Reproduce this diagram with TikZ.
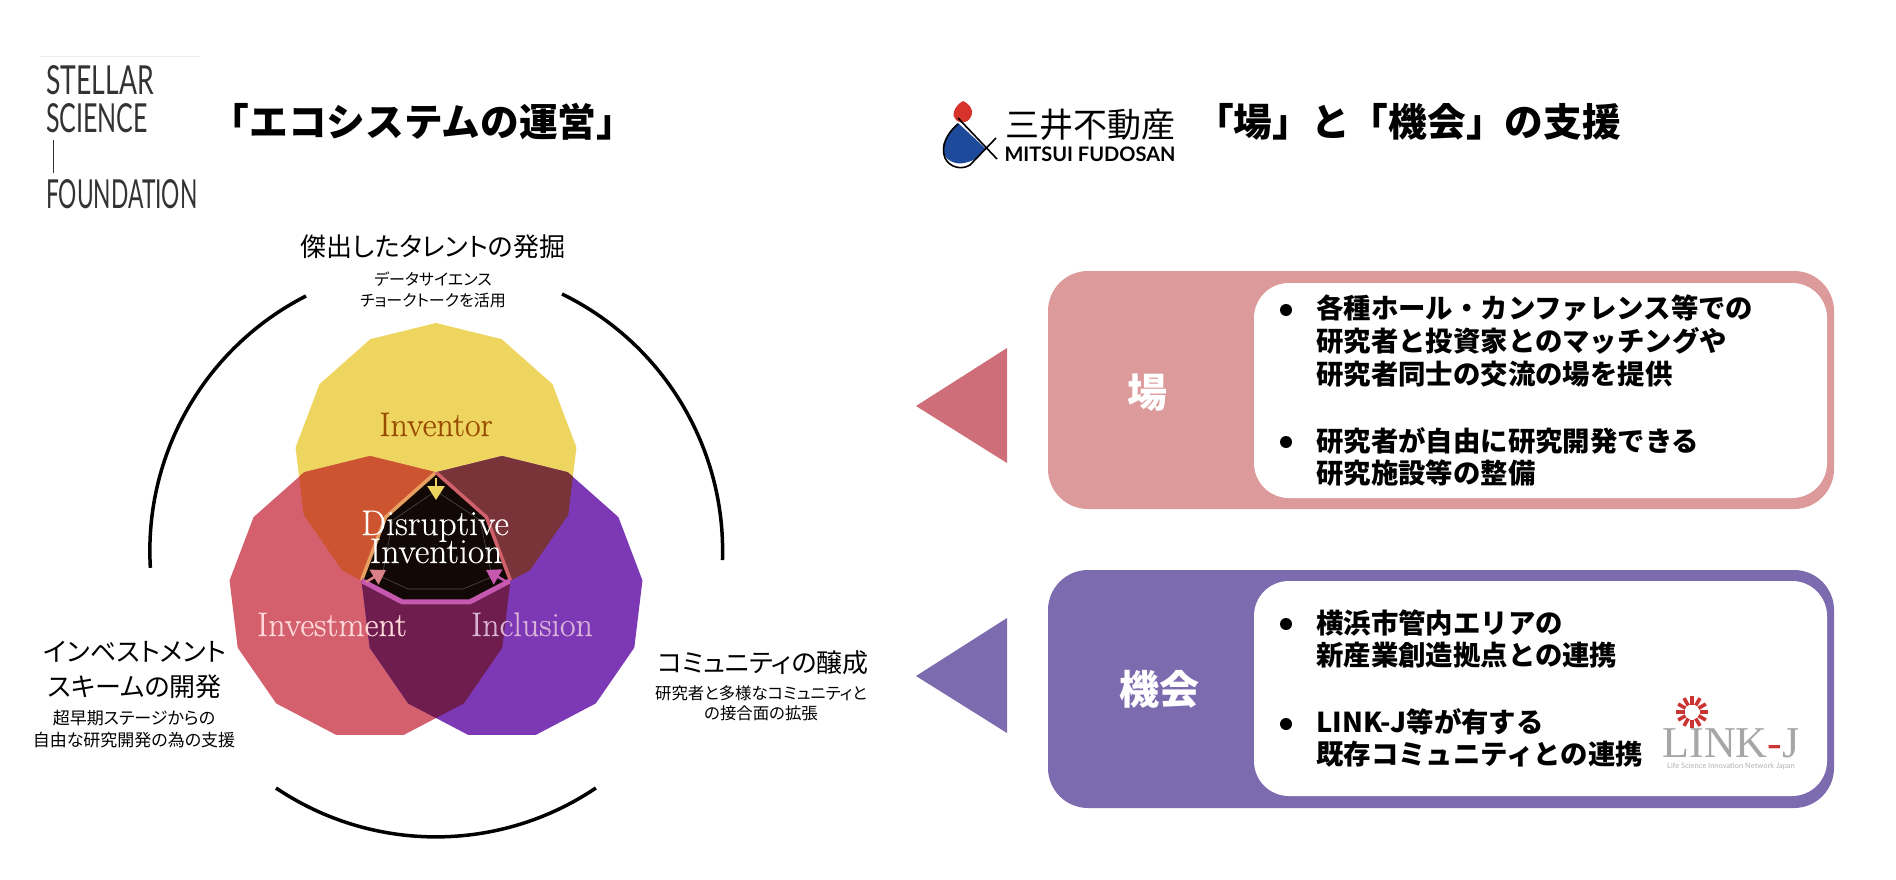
\documentclass[tikz,border=0pt]{standalone}
\usepackage{fontspec}
\usetikzlibrary{arrows.meta}
\newfontfamily\gothic{Noto Sans CJK JP}
\newfontfamily\labelfont[RawFeature=+palt]{Noto Sans CJK JP}
\newfontfamily\logofont{Lato}
\newfontfamily\linkfont{Liberation Serif}
\newfontfamily\latinfont[FakeBold=0.35]{Latin Modern Roman}
\newcommand{\fs}[1]{\fontsize{#1}{#1}\selectfont}
\newcommand{\vennpoly}[2]{plot[samples=14,domain=90:450] ({#1+141.5*cos(\x)},{#2-141.5*sin(\x)}) -- cycle}
\definecolor{invyellow}{HTML}{EDD55F}
\definecolor{invred}{HTML}{D4606E}
\definecolor{invpurple}{HTML}{7D39B5}
\definecolor{mixorange}{HTML}{CD5430}
\definecolor{mixbrown}{HTML}{79343A}
\definecolor{mixplum}{HTML}{6E1D4E}
\definecolor{coreblack}{HTML}{120805}
\definecolor{edgeorange}{HTML}{E8A060}
\definecolor{edgepink}{HTML}{D0606A}
\definecolor{edgemagenta}{HTML}{C658B0}
\definecolor{pinkbox}{HTML}{DC9A9A}
\definecolor{pinktri}{HTML}{CE6E78}
\definecolor{violetbox}{HTML}{7D6BB0}
\definecolor{logoblue}{HTML}{1E4A9C}
\definecolor{logored}{HTML}{D8332B}
\definecolor{linkred}{HTML}{CC3333}
\tikzset{
  arcline/.style={line width=3.5pt, black},
  title/.style={font=\gothic\bfseries\fs{38.7}, inner sep=0pt},
  mlabel/.style={font=\labelfont\fs{24}, inner sep=0pt, align=center},
  msmall/.style={font=\labelfont\fs{16}, inner sep=0pt, align=center},
  latinlabel/.style={font=\latinfont\fs{34}, inner sep=0pt, anchor=base},
  boxtext/.style={font=\gothic\bfseries\fs{27.4}, inner sep=0pt, anchor=west, align=left},
  boxname/.style={font=\gothic\bfseries\fs{40}, white, inner sep=0pt},
  bulletdot/.style={circle, fill=black, inner sep=0pt, minimum size=12pt},
  outerbox/.style={rounded corners=40pt},
  innerbox/.style={rounded corners=35pt, fill=white},
  corearrow/.style={-{Triangle[length=14pt,width=17pt]}, line width=2.5pt},
  stellarword/.style={font=\logofont\fs{40}, anchor=base west, inner sep=0pt, black!80},
}
\begin{document}
\begin{tikzpicture}[x=1pt,y=-1pt]
\useasboundingbox (0,0) rectangle (1896,880);
% logo left
\draw[gray!15, line width=1pt] (40,57) -- (200,57);
\node[stellarword, xscale=.665] (stellar) at (46,95) {STELLAR};
\node[stellarword, xscale=.625] (science) at (46,133) {SCIENCE};
\draw[black!80, line width=1pt] (53,140) -- (53,173);
\node[stellarword, xscale=.57] (foundation) at (46,208) {FOUNDATION};
\node[title] (ecotitle) at (423,122) {「エコシステムの運営」};
% logo right
\fill[logoblue] (958,123) .. controls (950,132) and (942,140) .. (943,150) .. controls (944,160) and (955,165) .. (964,163) .. controls (975,161) and (982,155) .. (985,148) -- cycle;
\fill[logored] (963,101) .. controls (954,106) and (951,116) .. (956,120) .. controls (962,125) and (970,122) .. (972,114) .. controls (973,108) and (968,103) .. (963,101) -- cycle;
\draw[line width=1.6pt] (958,118) -- (997,159);
\draw[line width=1.6pt] (996,138) -- (970,165) .. controls (962,170) and (950,168) .. (945,158) .. controls (940,146) and (948,132) .. (958,124);
\node[font=\gothic\fs{34}, inner sep=0pt] (mitsuijp) at (1090,125) {三井不動産};
\node[font=\logofont\bfseries\fs{20}, inner sep=0pt] (mitsuien) at (1090,154) {MITSUI FUDOSAN};
\node[title] (basotitle) at (1408,122) {「場」と「機会」の支援};
% arcs
\draw[arcline] (562,294) arc[start angle=-64, end angle=1.8, radius=286];
\draw[arcline] (306,296) arc[start angle=-117, end angle=-183.4, radius=286];
\draw[arcline] (276,788) arc[start angle=-236, end angle=-304, radius=286];
% venn
\fill[invyellow] \vennpoly{436}{464.5};
\fill[invred] \vennpoly{370}{597.5};
\fill[invpurple] \vennpoly{502}{597.5};
\begin{scope}
\clip \vennpoly{436}{464.5};
\fill[mixorange] \vennpoly{370}{597.5};
\end{scope}
\begin{scope}
\clip \vennpoly{436}{464.5};
\fill[mixbrown] \vennpoly{502}{597.5};
\end{scope}
\begin{scope}
\clip \vennpoly{370}{597.5};
\fill[mixplum] \vennpoly{502}{597.5};
\end{scope}
\begin{scope}
\clip \vennpoly{436}{464.5};
\clip \vennpoly{370}{597.5};
\fill[coreblack] \vennpoly{502}{597.5};
\draw[line width=3.5pt, edgeorange] \vennpoly{502}{597.5};
\end{scope}
\begin{scope}
\clip \vennpoly{436}{464.5};
\clip \vennpoly{502}{597.5};
\draw[line width=3.5pt, edgepink] \vennpoly{370}{597.5};
\end{scope}
\begin{scope}
\clip \vennpoly{370}{597.5};
\clip \vennpoly{502}{597.5};
\draw[line width=5pt, edgemagenta] \vennpoly{436}{464.5};
\end{scope}
\draw[gray!60!black, line width=.6pt] (433,493) -- (393,520) -- (382,577) -- (408,589) -- (463,589) -- (492,577) -- (480,520) -- (439,493);
\coordinate (coretop) at (436,478);
\coordinate (coretopend) at (436,500);
\coordinate (coreleft) at (366,582);
\coordinate (coreleftend) at (386,570);
\coordinate (coreright) at (507,582);
\coordinate (corerightend) at (486,570);
\draw[corearrow, invyellow] (coretop) -- (coretopend);
\draw[corearrow, edgepink!80!white] (coreleft) -- (coreleftend);
\draw[corearrow, edgemagenta] (coreright) -- (corerightend);
\node[latinlabel, text=orange!60!black] (inventor) at (436,436) {Inventor};
\node[latinlabel, text=red!15!white] (investment) at (332,636) {Investment};
\node[latinlabel, text=violet!30!white] (inclusion) at (532,636) {Inclusion};
\node[latinlabel, font=\latinfont\fs{35.5}, white] (disruptive) at (435,535) {Disruptive};
\node[latinlabel, font=\latinfont\fs{35.5}, white] (invention) at (436,563) {Invention};
% labels
\node[mlabel, font=\labelfont\fs{26}] (talent) at (433,247) {傑出したタレントの発掘};
\node[msmall] (talentsub) at (433,290) {データサイエンス\\[5pt]チョークトークを活用};
\node[mlabel, font=\labelfont\fs{26}] (scheme) at (135,670) {インベストメント\\[9pt]スキームの開発};
\node[msmall, font=\labelfont\fs{17}] (schemesub) at (134,729) {超早期ステージからの\\[5pt]自由な研究開発の為の支援};
\node[mlabel, font=\labelfont\fs{26}] (community) at (763,663) {コミュニティの醸成};
\node[msmall, font=\labelfont\fs{16.4}] (communitysub) at (761,703) {研究者と多様なコミュニティと\\[4pt]の接合面の拡張};
% right side
\fill[pinktri] (916,406) -- (1007,348) -- (1007,463) -- cycle;
\fill[violetbox] (916,676) -- (1007,618) -- (1007,733) -- cycle;
\fill[pinkbox, outerbox] (1048,271) rectangle (1834,509);
\fill[innerbox] (1254,283) rectangle (1827,498);
\fill[violetbox, outerbox] (1048,570) rectangle (1834,808);
\fill[innerbox] (1254,581) rectangle (1827,796);
\node[boxname] (baname) at (1147,393) {場};
\node[boxname] (kikainame) at (1159,689) {機会};
\node[bulletdot] (ba1dot) at (1286,310) {};
\node[boxtext] (ba1) at (1316,341) {各種ホール・カンファレンス等での\\[6pt]研究者と投資家とのマッチングや\\[6pt]研究者同士の交流の場を提供};
\node[bulletdot] (ba2dot) at (1286,442) {};
\node[boxtext] (ba2) at (1316,457) {研究者が自由に研究開発できる\\[5pt]研究施設等の整備};
\node[bulletdot] (ki1dot) at (1286,624) {};
\node[boxtext] (ki1) at (1316,639) {横浜市管内エリアの\\[4pt]新産業創造拠点との連携};
\node[bulletdot] (ki2dot) at (1286,724) {};
\node[boxtext] (ki2) at (1316,738) {LINK-J等が有する\\[4pt]既存コミュニティとの連携};
% link-j logo
\foreach \a in {0,30,...,330}
  \draw[linkred, line width=3.6pt] (1692,712) ++(\a:7.5) -- ++(\a:8.5);
\node[font=\linkfont\fs{44}, text=gray!70, inner sep=0pt, anchor=base] (linkj) at (1731,757) {LINK\textcolor{linkred}{-}J};
\node[font=\logofont\fs{7.5}, text=gray!60, inner sep=0pt] (linkjsub) at (1731,766) {Life Science Innovation Network Japan};
\end{tikzpicture}
\end{document}
